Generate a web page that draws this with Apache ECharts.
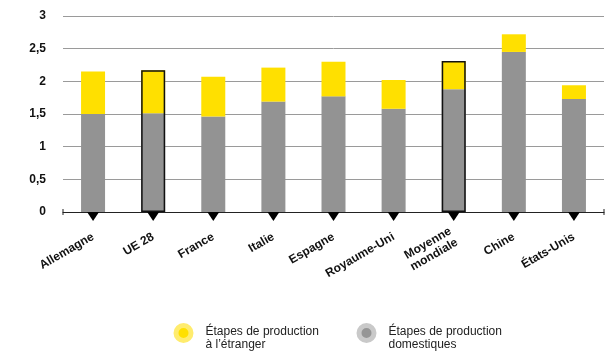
<!DOCTYPE html>
<html>
<head>
<meta charset="utf-8">
<script src="https://cdn.jsdelivr.net/npm/echarts@6/dist/echarts.min.js"></script>
<style>
  html, body { margin: 0; padding: 0; background: #fff; }
  #chart { width: 614px; height: 356px; }
</style>
</head>
<body>
<div id="chart"></div>
<script>
const categories = ['Allemagne', 'UE 28', 'France', 'Italie', 'Espagne', 'Royaume-Uni', 'Moyenne\nmondiale', 'Chine', 'États-Unis'];
const domestic = [1.50, 1.51, 1.46, 1.69, 1.77, 1.58, 1.88, 2.45, 1.73];
const foreign = [0.65, 0.66, 0.61, 0.52, 0.53, 0.44, 0.43, 0.27, 0.21];
const highlighted = ['UE 28', 'Moyenne\nmondiale'];
const markers = [0, 0, 0, 0, 0, 0, 0, 0, 0];
const yTicks = { min: 0, max: 3, interval: 0.5 };
const nameForeign = 'Étapes de production\nà l\u2019étranger';
const nameDomestic = 'Étapes de production\ndomestiques';

const outline = categories.map((c, i) =>
  highlighted.includes(c) ? +(domestic[i] + foreign[i]).toFixed(3) : '-');

const chart = echarts.init(document.getElementById('chart'), null, { renderer: 'canvas' });
const font = 'Liberation Sans, Arial, sans-serif';

function legendCfg(name, left, color, halo) {
  return {
    data: [name],
    left: left,
    top: 323,
    padding: 0,
    orient: 'horizontal',
    icon: 'circle',
    itemWidth: 15,
    itemHeight: 15,
    itemStyle: { color: color, borderColor: halo, borderWidth: 5 },
    selectedMode: false,
    formatter: n => {
      const parts = n.split('\n');
      return '{a|' + parts[0] + '}\n{b|' + parts[1] + '}';
    },
    textStyle: {
      fontFamily: font, fontSize: 12, color: '#222',
      padding: [0, 0, 0, 9.5],
      rich: {
        a: { fontFamily: font, fontSize: 12, color: '#222', lineHeight: 24 },
        b: { fontFamily: font, fontSize: 12, color: '#222', lineHeight: 2 }
      }
    }
  };
}

chart.setOption({
  animation: false,
  backgroundColor: '#fff',
  grid: { left: 63, right: 10, top: 16, bottom: 144 },
  legend: [
    legendCfg(nameForeign, 173.5, '#FFE000', '#FFEC6E'),
    legendCfg(nameDomestic, 356.5, '#959595', '#C9C9C9')
  ],
  xAxis: {
    type: 'category',
    data: categories,
    axisLine: {
      show: true,
      lineStyle: { color: '#222', width: 1 },
      symbol: ['rect', 'rect'],
      symbolSize: [6, 1]
    },
    axisTick: { show: false },
    axisLabel: {
      rotate: 30,
      margin: 24,
      fontFamily: font,
      fontWeight: 'bold',
      fontSize: 12,
      lineHeight: 13,
      color: '#111',
      interval: 0
    }
  },
  yAxis: {
    type: 'value',
    min: yTicks.min,
    max: yTicks.max,
    interval: yTicks.interval,
    axisLine: { show: false },
    axisTick: { show: false },
    splitLine: { lineStyle: { color: '#9a9a9a', width: 1 } },
    axisLabel: {
      margin: 17,
      fontFamily: font,
      fontWeight: 'bold',
      fontSize: 12,
      color: '#111',
      formatter: v => String(v).replace('.', ',')
    }
  },
  series: [
    {
      name: nameDomestic,
      type: 'bar',
      stack: 'total',
      data: domestic,
      barWidth: 24,
      barGap: '-100%',
      itemStyle: { color: '#939393' }
    },
    {
      name: nameForeign,
      type: 'bar',
      stack: 'total',
      data: foreign,
      barWidth: 24,
      barGap: '-100%',
      itemStyle: { color: '#FFE000' }
    },
    {
      name: 'outline',
      type: 'bar',
      data: outline,
      barWidth: 24,
      barGap: '-100%',
      silent: true,
      z: 3,
      itemStyle: { color: 'rgba(0,0,0,0)', borderColor: '#111', borderWidth: 1.5 }
    },
    {
      name: 'markers',
      type: 'scatter',
      data: markers,
      symbol: 'path://M0,0 L12,0 L6,9 Z',
      symbolSize: [12, 9],
      symbolOffset: [0, '50%'],
      clip: false,
      silent: true,
      z: 5,
      itemStyle: { color: '#000', opacity: 1 }
    }
  ]
});
</script>
</body>
</html>
